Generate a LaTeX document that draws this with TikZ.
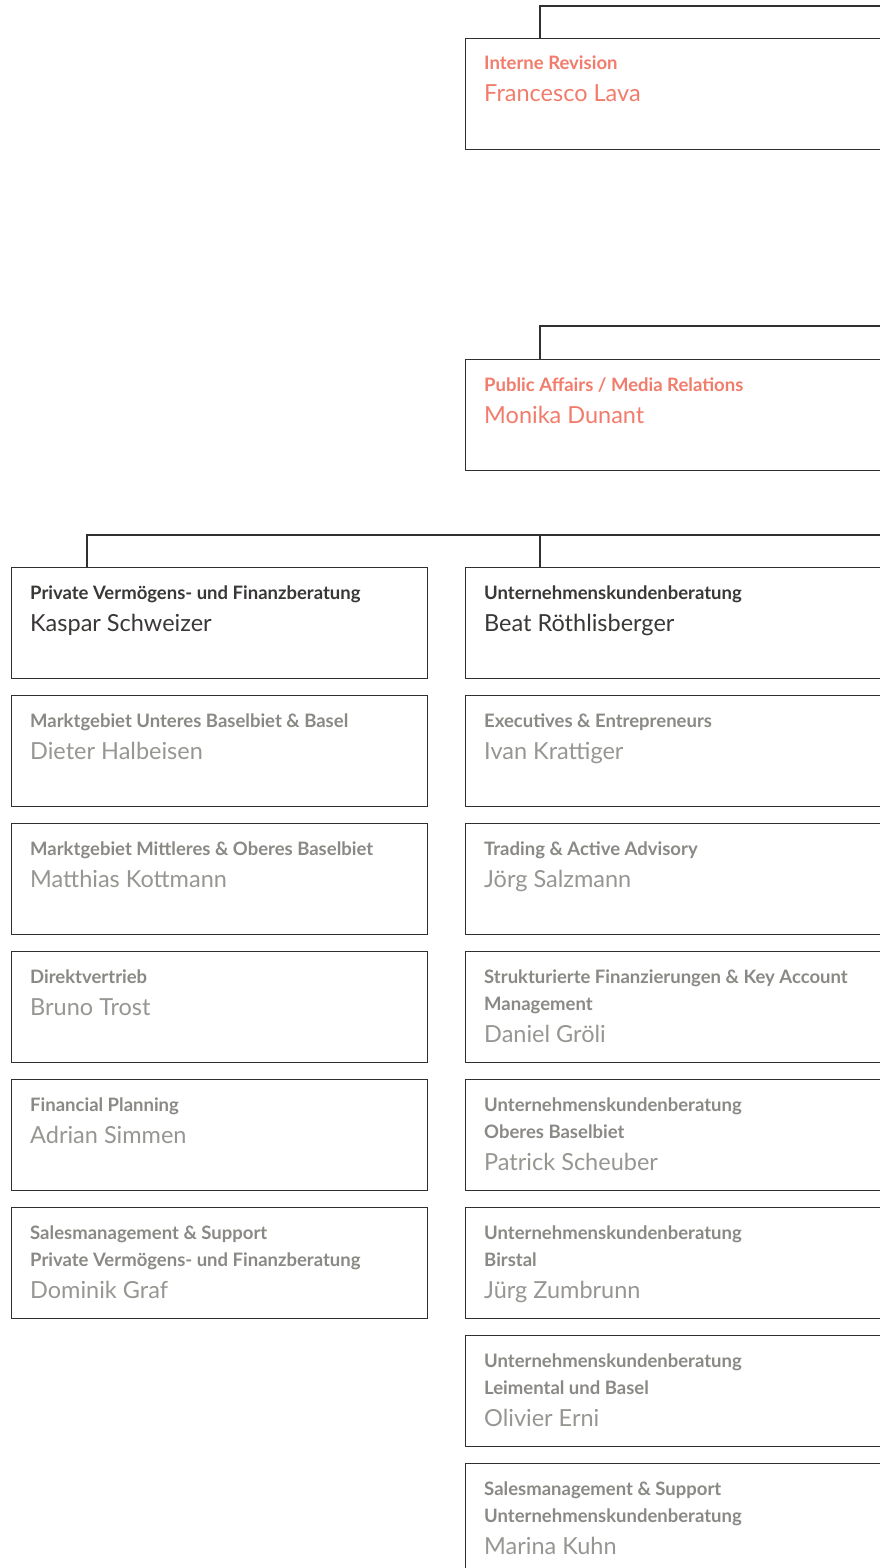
\documentclass[tikz,border=0pt]{standalone}
\usepackage{fontspec}
\setmainfont{Lato}
\definecolor{coral}{HTML}{F27C6B}
\definecolor{headc}{HTML}{3A3836}
\definecolor{subt}{HTML}{8A8985}
\definecolor{subn}{HTML}{979692}
\definecolor{linec}{HTML}{303030}
\tikzset{
  orgbox/.style={draw=linec, line width=1.4pt, rectangle, inner sep=0pt, anchor=north west,
     minimum width=416pt, minimum height=111pt, fill=white},
  conn/.style={draw=linec, line width=1.2pt},
  ttl/.style={anchor=base west, inner sep=0pt, font=\fontsize{18.5}{22}\selectfont\bfseries},
  nm/.style={anchor=base west, inner sep=0pt, font=\fontsize{23.5}{27}\selectfont},
  coralc/.style={text=coral},
  headcol/.style={text=headc},
  subtc/.style={text=subt},
  subnc/.style={text=subn}
}
\newcommand\unitA[6]{%
  \node[orgbox] (#1) at (#2,#3) {};
  \node[ttl,#4] (#1t) at (#2+19,#3+32) {#6};
}
\newcommand\unitname[5]{%
  \node[nm,#4] (#1n) at (#2+19,#3) {#5};
}
\begin{document}
\begin{tikzpicture}[x=1pt,y=-1pt]
\useasboundingbox (0,0) rectangle (880,1568);
\clip (0,0) rectangle (880,1568);

% top boxes
\unitA{ir}{465}{38}{coralc}{}{Interne Revision}
\unitname{ir}{465}{102}{coralc}{Francesco Lava}
\unitA{pa}{465}{359}{coralc}{}{Public Affairs / Media Relations}
\unitname{pa}{465}{423}{coralc}{Monika Dunant}

% heads
\unitA{pv}{11}{567}{headcol}{}{Private Vermögens- und Finanzberatung}
\unitname{pv}{11}{631}{headcol}{Kaspar Schweizer}
\unitA{uk}{465}{567}{headcol}{}{Unternehmenskundenberatung}
\unitname{uk}{465}{631}{headcol}{Beat Röthlisberger}

% left column
\unitA{l1}{11}{695}{subtc}{}{Marktgebiet Unteres Baselbiet \& Basel}
\unitname{l1}{11}{759}{subnc}{Dieter Halbeisen}
\unitA{l2}{11}{823}{subtc}{}{Marktgebiet Mittleres \& Oberes Baselbiet}
\unitname{l2}{11}{887}{subnc}{Matthias Kottmann}
\unitA{l3}{11}{951}{subtc}{}{Direktvertrieb}
\unitname{l3}{11}{1015}{subnc}{Bruno Trost}
\unitA{l4}{11}{1079}{subtc}{}{Financial Planning}
\unitname{l4}{11}{1143}{subnc}{Adrian Simmen}
\unitA{l5}{11}{1207}{subtc}{}{Salesmanagement \& Support}
\node[ttl,subtc] (l5t2) at (30,1266) {Private Vermögens- und Finanzberatung};
\unitname{l5}{11}{1298}{subnc}{Dominik Graf}

% right column
\unitA{r1}{465}{695}{subtc}{}{Executives \& Entrepreneurs}
\unitname{r1}{465}{759}{subnc}{Ivan Krattiger}
\unitA{r2}{465}{823}{subtc}{}{Trading \& Active Advisory}
\unitname{r2}{465}{887}{subnc}{Jörg Salzmann}
\unitA{r3}{465}{951}{subtc}{}{Strukturierte Finanzierungen \& Key Account}
\node[ttl,subtc] (r3t2) at (484,1010) {Management};
\unitname{r3}{465}{1042}{subnc}{Daniel Gröli}
\unitA{r4}{465}{1079}{subtc}{}{Unternehmenskundenberatung}
\node[ttl,subtc] (r4t2) at (484,1138) {Oberes Baselbiet};
\unitname{r4}{465}{1170}{subnc}{Patrick Scheuber}
\unitA{r5}{465}{1207}{subtc}{}{Unternehmenskundenberatung}
\node[ttl,subtc] (r5t2) at (484,1266) {Birstal};
\unitname{r5}{465}{1298}{subnc}{Jürg Zumbrunn}
\unitA{r6}{465}{1335}{subtc}{}{Unternehmenskundenberatung}
\node[ttl,subtc] (r6t2) at (484,1394) {Leimental und Basel};
\unitname{r6}{465}{1426}{subnc}{Olivier Erni}
\unitA{r7}{465}{1463}{subtc}{}{Salesmanagement \& Support}
\node[ttl,subtc] (r7t2) at (484,1522) {Unternehmenskundenberatung};
\unitname{r7}{465}{1554}{subnc}{Marina Kuhn}

% connectors
\coordinate (irR) at (884,6);
\coordinate (irC) at (540,6);
\draw[conn] (irR) -- (irC) -- (irC |- ir.north);
\coordinate (paR) at (884,326);
\coordinate (paC) at (540,326);
\draw[conn] (paR) -- (paC) -- (paC |- pa.north);
\coordinate (hR) at (884,535);
\coordinate (hL) at (87,535);
\coordinate (hM) at (540,535);
\draw[conn] (hR) -- (hL) -- (hL |- pv.north);
\draw[conn] (hM) -- (hM |- uk.north);
\end{tikzpicture}
\end{document}
